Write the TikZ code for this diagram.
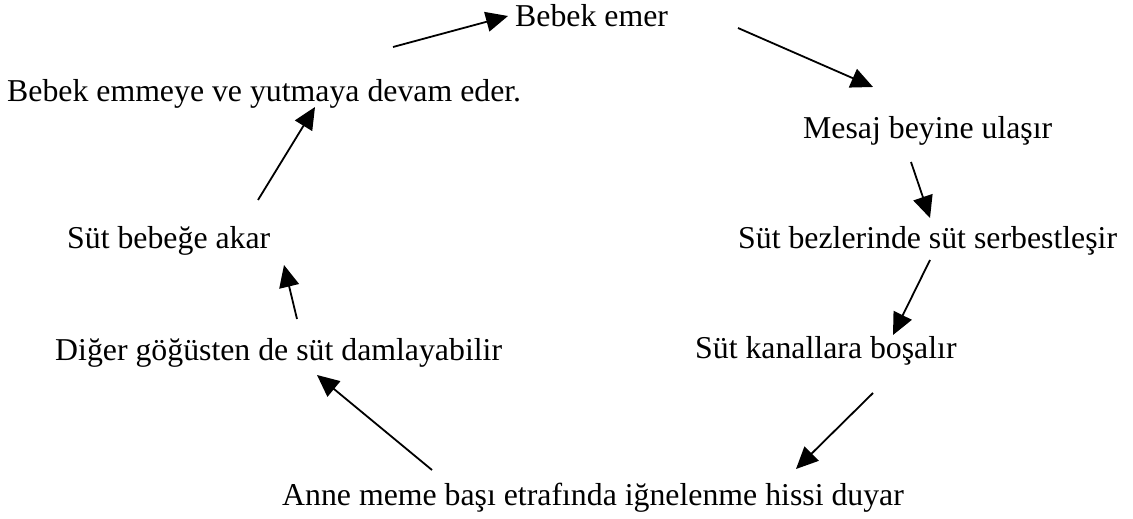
\documentclass[tikz,border=0pt]{standalone}
\usepackage{fontspec}
\setmainfont{Liberation Serif}
\usetikzlibrary{arrows.meta}
\begin{document}
\begin{tikzpicture}[x=1pt,y=-1pt]
        \tikzstyle{phase} = [anchor=base west,inner sep=0pt,font=\fontsize{31.8}{36}\selectfont]
        \tikzstyle{cycle arrow} = [-{Triangle[length=22pt,width=20pt]},line width=1.8pt]

        \useasboundingbox (0,0) rectangle (1133,519);

        \node[phase] (A) at (515,27){Bebek emer};
        \node[phase] (B) at (803,138){Mesaj beyine ulaşır};
        \node[phase] (C) at (738,248){Süt bezlerinde süt serbestleşir};
        \node[phase] (D) at (695,358){Süt kanallara boşalır};
        \node[phase] (E) at (282,505){Anne meme başı etrafında iğnelenme hissi duyar};
        \node[phase] (F) at (55,360){Diğer göğüsten de süt damlayabilir};
        \node[phase] (G) at (67,248){Süt bebeğe akar};
        \node[phase] (H) at (7,102){Bebek emmeye ve yutmaya devam eder.};

        \coordinate (h1) at (393,47);  \coordinate (a0) at (508,16);
        \coordinate (a1) at (738,28);  \coordinate (b0) at (873,87);
        \coordinate (b1) at (911,162); \coordinate (c0) at (930,218);
        \coordinate (c1) at (930,260); \coordinate (d0) at (893,335);
        \coordinate (d1) at (873,393); \coordinate (e0) at (796,469);
        \coordinate (e1) at (432,470); \coordinate (f0) at (317,375);
        \coordinate (f1) at (297,319); \coordinate (g0) at (284,265);
        \coordinate (g1) at (258,200); \coordinate (h0) at (315,107);

        %\draw[->] (A.east) -- (B.north);
        \draw[cycle arrow] (h1) -- (a0);
        \draw[cycle arrow] (a1) -- (b0);
        \draw[cycle arrow] (b1) -- (c0);
        \draw[cycle arrow] (c1) -- (d0);
        \draw[cycle arrow] (d1) -- (e0);
        \draw[cycle arrow] (e1) -- (f0);
        \draw[cycle arrow] (f1) -- (g0);
        \draw[cycle arrow] (g1) -- (h0);

    \end{tikzpicture}
\end{document}
